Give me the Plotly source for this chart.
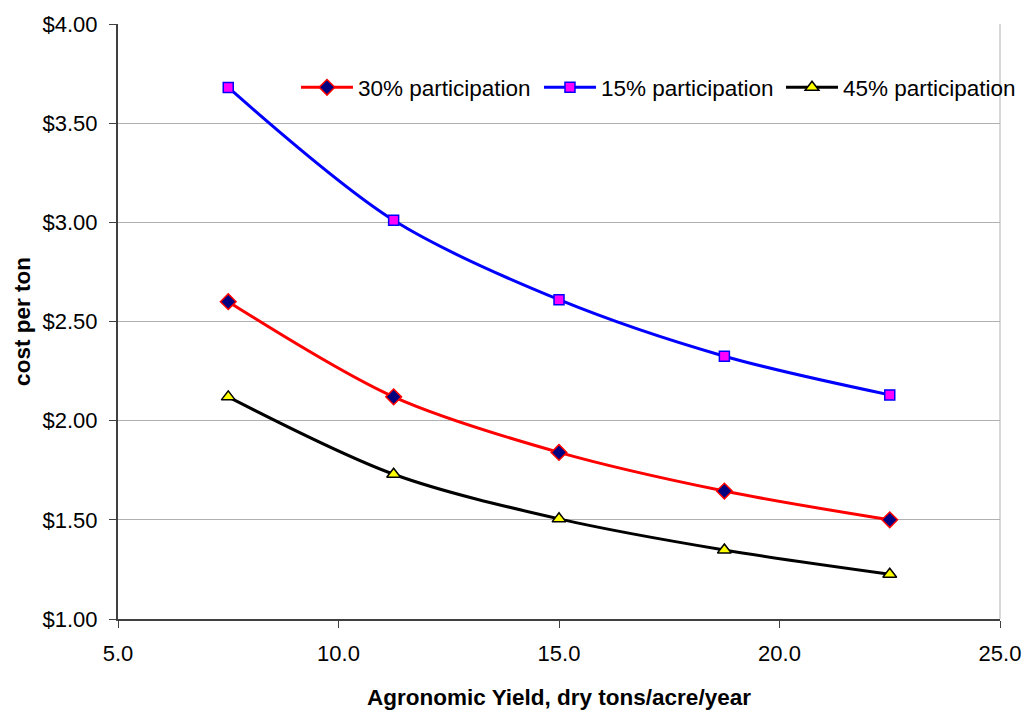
import plotly.graph_objects as go

yield_x = [7.5, 11.25, 15.0, 18.75, 22.5]
p30 = [2.60, 2.12, 1.84, 1.645, 1.50]
p15 = [3.68, 3.01, 2.61, 2.325, 2.13]
p45 = [2.12, 1.73, 1.505, 1.348, 1.226]

x_ticks = [5, 10, 15, 20, 25]
x_tick_labels = ["5.0", "10.0", "15.0", "20.0", "25.0"]
y_ticks = [1.0, 1.5, 2.0, 2.5, 3.0, 3.5, 4.0]
y_tick_labels = ["$1.00", "$1.50", "$2.00", "$2.50", "$3.00", "$3.50", "$4.00"]

FONT = "Liberation Sans, Arial, sans-serif"

fig = go.Figure()
fig.add_trace(go.Scatter(
    x=yield_x, y=p30, name="30% participation", mode="lines+markers", legend="legend",
    line=dict(color="#ff0000", width=3, shape="spline", smoothing=0.9),
    marker=dict(symbol="diamond", size=12, color="#000080", line=dict(color="#ff0000", width=1.5)),
))
fig.add_trace(go.Scatter(
    x=yield_x, y=p15, name="15% participation", mode="lines+markers", legend="legend2",
    line=dict(color="#0000ff", width=3, shape="spline", smoothing=0.9),
    marker=dict(symbol="square", size=10, color="#ff00ff", line=dict(color="#0000ff", width=1.5)),
))
fig.add_trace(go.Scatter(
    x=yield_x, y=p45, name="45% participation", mode="lines+markers", legend="legend3",
    line=dict(color="#000000", width=3, shape="spline", smoothing=0.9),
    marker=dict(symbol="triangle-up", size=12, color="#ffff00", line=dict(color="#000000", width=1.5)),
))

leg = dict(xanchor="left", y=0.893, yanchor="middle", orientation="h",
           font=dict(size=22.5, family=FONT), bgcolor="rgba(0,0,0,0)", itemwidth=52)

fig.update_layout(
    width=1025, height=710,
    margin=dict(l=118, r=25, t=24, b=91, autoexpand=False),
    paper_bgcolor="white", plot_bgcolor="white",
    font=dict(family=FONT, color="black"),
    showlegend=True,
    legend=dict(leg, x=0.2018),
    legend2=dict(leg, x=0.4773),
    legend3=dict(leg, x=0.7517),
    xaxis=dict(range=[5, 25], tickvals=x_ticks, ticktext=x_tick_labels,
               showgrid=False, zeroline=False, showline=True, linecolor="#404040", linewidth=2,
               ticks="outside", ticklen=7, tickcolor="#404040", ticklabelstandoff=7,
               tickfont=dict(size=22), automargin=False,
               title=dict(text="<b>Agronomic Yield, dry tons/acre/year</b>", font=dict(size=22.5), standoff=25)),
    yaxis=dict(range=[1, 4], tickvals=y_ticks, ticktext=y_tick_labels,
               showgrid=True, gridcolor="#b0b0b0", gridwidth=1, zeroline=False,
               showline=True, linecolor="#404040", linewidth=2,
               ticks="outside", ticklen=7, tickcolor="#404040", ticklabelstandoff=7,
               tickfont=dict(size=22), automargin=False,
               title=dict(text="<b>cost per ton</b>", font=dict(size=22.5), standoff=6)),
)
fig.add_shape(type="line", xref="paper", yref="paper", x0=1, x1=1, y0=0, y1=1,
              line=dict(color="#b0b0b0", width=1))

fig.write_html("out.html")
